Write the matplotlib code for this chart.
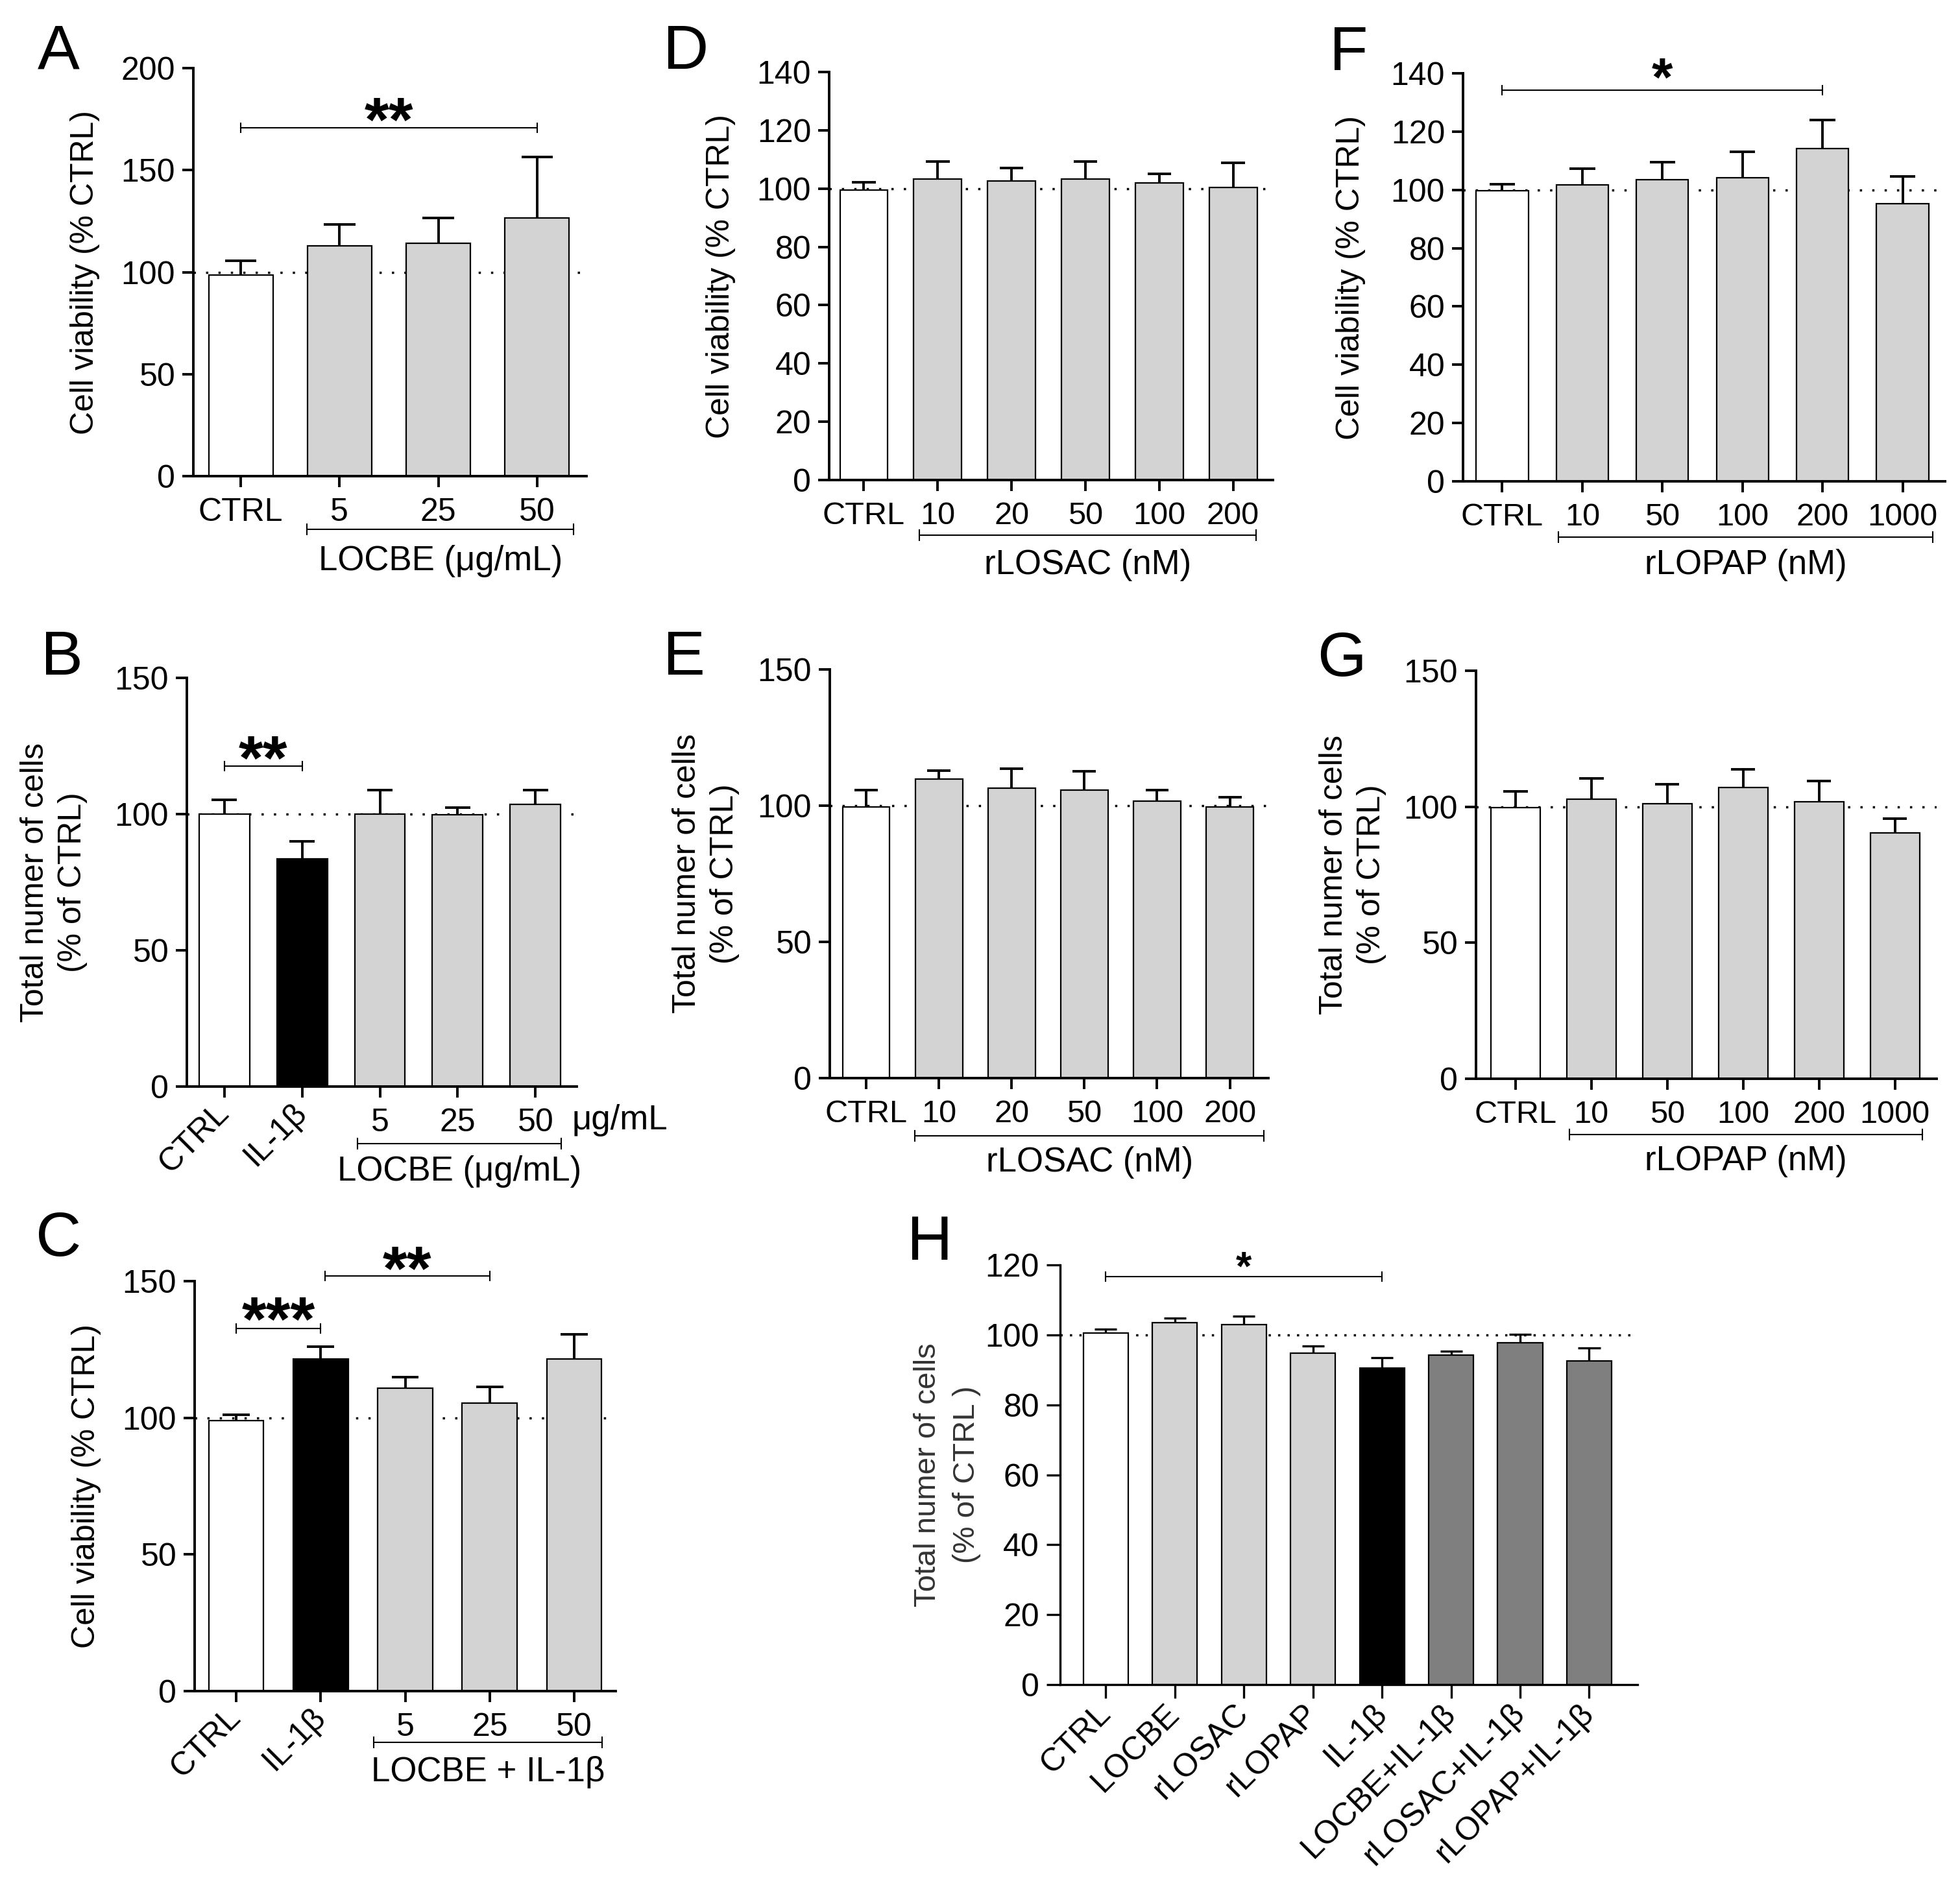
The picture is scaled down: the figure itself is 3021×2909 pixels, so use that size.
import numpy as np
import matplotlib
matplotlib.use('Agg')
import matplotlib.pyplot as plt

plt.rcParams['font.family'] = ['Liberation Sans', 'DejaVu Sans']

# ---- values (mean and upper SEM) ----
a_cats = ['CTRL', '5', '25', '50']
a_mean = [98.5, 113.0, 114.0, 126.5]
a_sem = [7.0, 10.5, 12.5, 30.0]

b_cats = ['CTRL', 'IL-1β', '5', '25', '50']
b_mean = [100.0, 83.5, 100.0, 99.8, 103.5]
b_sem = [5.2, 6.5, 8.8, 2.5, 5.3]

c_cats = ['CTRL', 'IL-1β', '5', '25', '50']
c_mean = [99.0, 121.5, 110.8, 105.3, 121.5]
c_sem = [2.0, 4.5, 4.0, 6.0, 9.0]

d_cats = ['CTRL', '10', '20', '50', '100', '200']
d_mean = [99.5, 103.2, 102.6, 103.2, 102.0, 100.3]
d_sem = [2.6, 6.0, 4.4, 6.0, 3.0, 8.5]

e_cats = ['CTRL', '10', '20', '50', '100', '200']
e_mean = [99.5, 109.8, 106.4, 105.7, 101.6, 99.5]
e_sem = [6.1, 3.0, 7.1, 6.9, 4.2, 3.7]

f_cats = ['CTRL', '10', '50', '100', '200', '1000']
f_mean = [99.8, 101.8, 103.4, 104.1, 114.1, 95.3]
f_sem = [2.1, 5.4, 6.1, 8.9, 9.9, 9.3]

g_cats = ['CTRL', '10', '50', '100', '200', '1000']
g_mean = [99.8, 102.9, 101.1, 107.1, 101.8, 90.4]
g_sem = [5.9, 7.6, 7.2, 6.7, 7.6, 5.2]

h_cats = ['CTRL', 'LOCBE', 'rLOSAC', 'rLOPAP', 'IL-1β',
          'LOCBE+IL-1β', 'rLOSAC+IL-1β', 'rLOPAP+IL-1β']
h_mean = [100.5, 103.5, 103.0, 94.7, 90.5, 94.3, 97.7, 92.6]
h_sem = [1.2, 1.2, 2.3, 2.2, 3.0, 1.0, 2.4, 3.6]

WHITE, LIGHT, BLACK, DARK = 'white', '#d3d3d3', 'black', '#7f7f7f'

W, H = 3021, 2909
fig = plt.figure(figsize=(W / 100, H / 100), dpi=100)


def make_axes(x0, x1, y0, y1):
    # box given in pixels of the final image
    return fig.add_axes([x0 / W, 1 - y1 / H, (x1 - x0) / W, (y1 - y0) / H])


def draw_bars(ax, cats, mean, sem, colors, ymax, ystep, xlim, yfs=36, xfs=36,
              lw=2.8, dots=(0, (1, 4.5)), ticklen=12):
    x = np.arange(len(cats))
    top = np.array(mean) + np.array(sem)
    ax.axhline(100, color='black', lw=2.5, ls=dots, zorder=0.5)
    ax.vlines(x, mean, top, color='black', lw=lw, zorder=1)
    ax.hlines(top, x - 0.16, x + 0.16, color='black', lw=lw, zorder=1)
    ax.bar(x, mean, width=0.65, color=colors, edgecolor='black', linewidth=1.6, zorder=2)
    ax.set_xlim(*xlim)
    ax.set_ylim(0, ymax)
    ax.set_yticks(np.arange(0, ymax + 1, ystep))
    ax.set_xticks(x)
    ax.set_xticklabels(cats)
    for side in ['top', 'right']:
        ax.spines[side].set_visible(False)
    for side in ['left', 'bottom']:
        ax.spines[side].set_linewidth(lw)
    ax.tick_params(axis='both', length=ticklen, width=lw)
    ax.tick_params(axis='y', pad=8, labelsize=yfs)
    ax.tick_params(axis='x', pad=12, labelsize=xfs)


def ylabel(ax, text, off_px, fs=36, ls=1.2, color='black'):
    ax.set_ylabel(text, fontsize=fs, va='center', linespacing=ls, color=color)
    w = ax.get_position().width * W
    ax.yaxis.set_label_coords(-off_px / w, 0.5)


def sig_bar(ax, x1, x2, y, stars, star_y, fs):
    ax.plot([x1, x2], [y, y], color='black', lw=1.5, marker='|', ms=11, mew=1.5, clip_on=False)
    ax.annotate(stars, ((x1 + x2) / 2, star_y), xytext=(0, -0.57 * fs),
                textcoords='offset points', ha='center', va='baseline',
                fontsize=fs, fontweight='bold', annotation_clip=False)


def group_bar(ax, x1, x2, off_px, text, text_px, fs=38):
    h = ax.get_position().height * H
    tr = ax.get_xaxis_transform()
    ax.plot([x1, x2], [-off_px / h] * 2, transform=tr, color='black', lw=1.5,
            marker='|', ms=13, mew=1.5, clip_on=False)
    ax.text((x1 + x2) / 2, -text_px / h, text, transform=tr, ha='center',
            va='center', fontsize=fs)


def tilt(ax, n):
    for lab in ax.get_xticklabels()[:n]:
        lab.set_rotation(45)
        lab.set_ha('right')
        lab.set_va('center')
        lab.set_rotation_mode('anchor')


# A
ax = make_axes(298, 904, 105, 734)
draw_bars(ax, a_cats, a_mean, a_sem, [WHITE] + [LIGHT] * 3, 200, 50, (-0.48, 3.5))
ylabel(ax, 'Cell viability (% CTRL)', 167)
sig_bar(ax, 0, 3, 170.8, '**', 182, 70)
group_bar(ax, 0.67, 3.37, 82, 'LOCBE (μg/mL)', 131)

# B
ax = make_axes(288, 889, 1045, 1675)
draw_bars(ax, b_cats, b_mean, b_sem, [WHITE, BLACK] + [LIGHT] * 3, 150, 50, (-0.48, 4.53))
tilt(ax, 2)
ylabel(ax, 'Total numer of cells\n(% of CTRL)', 205, ls=1.35)
sig_bar(ax, 0, 1, 117.7, '**', 126, 70)
group_bar(ax, 1.71, 4.33, 88, 'LOCBE (μg/mL)', 131)
ax.text(4.47, -52 / 630, 'μg/mL', transform=ax.get_xaxis_transform(), ha='left',
        va='center', fontsize=38)

# C
ax = make_axes(300, 949, 1975, 2607)
draw_bars(ax, c_cats, c_mean, c_sem, [WHITE, BLACK] + [LIGHT] * 3, 150, 50, (-0.49, 4.49))
tilt(ax, 2)
ylabel(ax, 'Cell viability (% CTRL)', 167)
sig_bar(ax, 0, 1, 132.6, '***', 141.5, 70)
sig_bar(ax, 1.05, 3.0, 151.8, '**', 160, 70)
group_bar(ax, 1.63, 4.33, 79, 'LOCBE + IL-1β', 125)

# D
ax = make_axes(1278, 1962, 111, 740)
draw_bars(ax, d_cats, d_mean, d_sem, [WHITE] + [LIGHT] * 5, 140, 20, (-0.47, 5.54), xfs=35)
ylabel(ax, 'Cell viability (% CTRL)', 167)
group_bar(ax, 0.75, 5.31, 85, 'rLOSAC (nM)', 131)

# E
ax = make_axes(1279, 1955, 1032, 1662)
draw_bars(ax, e_cats, e_mean, e_sem, [WHITE] + [LIGHT] * 5, 150, 50, (-0.5, 5.53), xfs=35)
ylabel(ax, 'Total numer of cells\n(% of CTRL)', 191, ls=1.35)
group_bar(ax, 0.67, 5.47, 89, 'rLOSAC (nM)', 130)

# F
ax = make_axes(2255, 2998, 113, 742)
draw_bars(ax, f_cats, f_mean, f_sem, [WHITE] + [LIGHT] * 5, 140, 20, (-0.49, 5.53), xfs=35)
ylabel(ax, 'Cell viability (% CTRL)', 173)
sig_bar(ax, 0, 4, 134.2, '*', 142.7, 60)
group_bar(ax, 0.70, 5.38, 86, 'rLOPAP (nM)', 129)

# G
ax = make_axes(2275, 2985, 1034, 1663)
draw_bars(ax, g_cats, g_mean, g_sem, [WHITE] + [LIGHT] * 5, 150, 50, (-0.52, 5.55), xfs=35)
ylabel(ax, 'Total numer of cells\n(% of CTRL)', 190, ls=1.35)
group_bar(ax, 0.71, 5.36, 86, 'rLOPAP (nM)', 127)

# H
ax = make_axes(1634, 2524, 1950, 2597)
draw_bars(ax, h_cats, h_mean, h_sem, [WHITE] + [LIGHT] * 3 + [BLACK] + [DARK] * 3,
          120, 20, (-0.66, 7.70), yfs=36, xfs=36, lw=2.4, dots=(0, (1, 3.2)), ticklen=15)
tilt(ax, 8)
ylabel(ax, 'Total numer of cells\n(% of CTRL )', 174, fs=34, ls=1.5, color='#333333')
sig_bar(ax, 0, 4, 116.6, '*', 122.5, 45)

# panel letters
for letter, x, y in [('A', 58, 106), ('B', 63, 1040), ('C', 55, 1936), ('D', 1022, 106),
                     ('E', 1022, 1040), ('F', 2049, 108), ('G', 2030, 1042), ('H', 1398, 1942)]:
    fig.text(x / W, 1 - y / H, letter, fontsize=70, va='baseline', ha='left')

fig.savefig('out.png', dpi=100)
